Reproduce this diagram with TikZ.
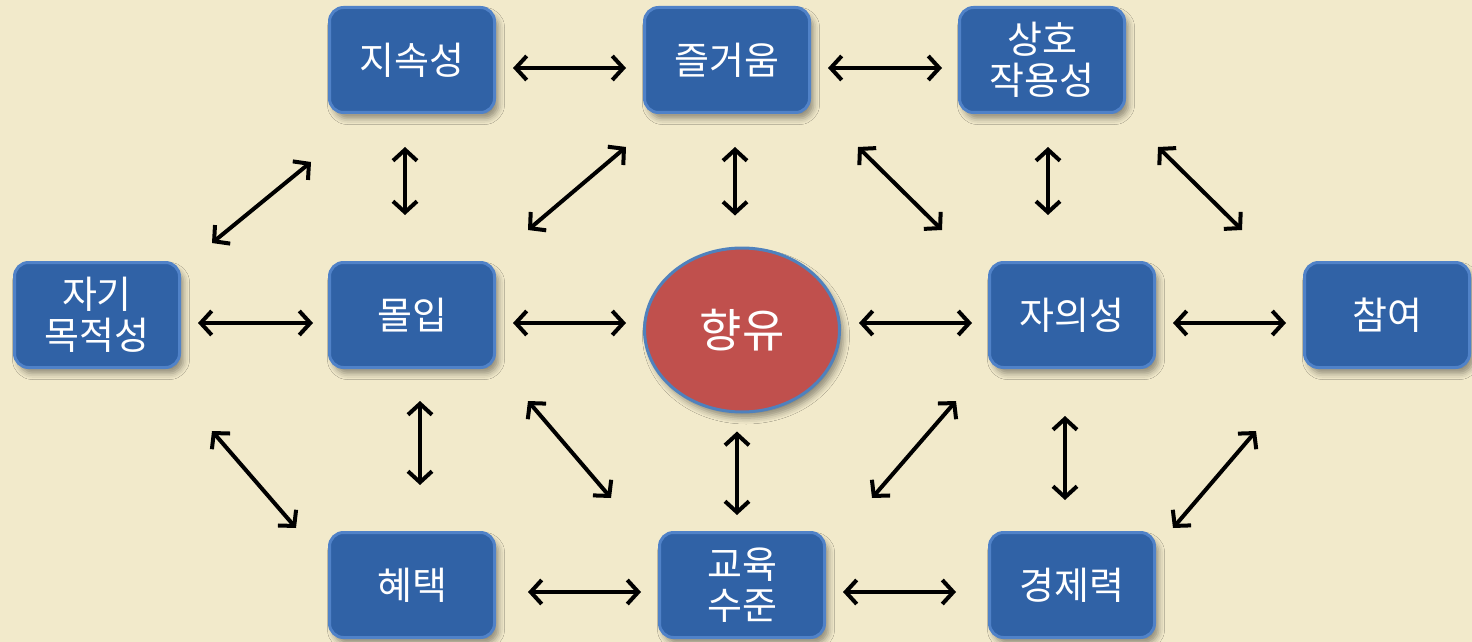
\documentclass[tikz,border=0pt]{standalone}
\usepackage{fontspec}
\newfontfamily\kr{Noto Sans CJK KR}
\usetikzlibrary{arrows.meta,shapes.geometric,shadows.blur}
\definecolor{parch}{RGB}{242,234,203}
\definecolor{boxfill}{RGB}{48,98,166}
\definecolor{boxline}{RGB}{80,130,200}
\definecolor{redfill}{RGB}{192,80,77}
\definecolor{redline}{RGB}{79,129,189}
\tikzset{
  bx/.style={draw=boxline, line width=1.5pt, fill=boxfill, rounded corners=7pt,
    minimum width=82.5pt, minimum height=52.5pt, inner sep=0pt,
    text=white, font=\kr\fontsize{19}{20.5}\selectfont, align=center,
    blur shadow={shadow xshift=2pt, shadow yshift=-3pt, shadow opacity=40, shadow blur radius=3pt}},
  ell/.style={ellipse, draw=redline, line width=1.5pt, fill=redfill,
    minimum width=97.5pt, minimum height=82pt, inner sep=0pt,
    text=white, font=\kr\fontsize{23}{26}\selectfont,
    blur shadow={shadow xshift=2pt, shadow yshift=-3pt, shadow opacity=40, shadow blur radius=3pt}},
  arr/.style={line width=2pt, black, {Straight Barb[length=5.5pt,width=12pt]}-{Straight Barb[length=5.5pt,width=12pt]}}
}
\begin{document}
\begin{tikzpicture}[x=0.5pt,y=-0.5pt]
\fill[parch] (0,0) rectangle (1472,642);
\useasboundingbox (0,0) rectangle (1472,642);
% nodes
\node[bx] (jisok) at (412,60) {지속성};
\node[bx] (jeul) at (727,60) {즐거움};
\node[bx] (sangho) at (1042,60) {상호\\작용성};
\node[bx] (jagi) at (97,315) {자기\\목적성};
\node[bx] (molip) at (412,315) {몰입};
\node[ell] (hyang) at (742,330) {향유};
\node[bx] (jaui) at (1072,315) {자의성};
\node[bx] (cham) at (1387,315) {참여};
\node[bx] (hye) at (412,585) {혜택};
\node[bx] (gyo) at (742,585) {교육\\수준};
\node[bx] (gyeong) at (1072,585) {경제력};
% horizontal
\draw[arr, shorten <=8.5pt, shorten >=8.5pt] ([yshift=-4pt]jisok.east) -- ([yshift=-4pt]jeul.west);
\draw[arr, shorten <=8.5pt, shorten >=8pt] ([yshift=-4pt]jeul.east) -- ([yshift=-4pt]sangho.west);
\draw[arr, shorten <=8.5pt, shorten >=7.5pt] ([yshift=-4pt]jagi.east) -- ([yshift=-4pt]molip.west);
\draw[arr, shorten <=8.5pt, shorten >=8.5pt] ([yshift=-4pt]molip.east) -- ([yshift=-4pt]molip.east -| hyang.west);
\draw[arr, shorten <=9pt, shorten >=8pt] ([yshift=-4pt]jaui.west -| hyang.east) -- ([yshift=-4pt]jaui.west);
\draw[arr, shorten <=8.5pt, shorten >=8.5pt] ([yshift=-4pt]jaui.east) -- ([yshift=-4pt]cham.west);
\draw[arr, shorten <=16pt, shorten >=8.5pt] ([yshift=-3.5pt]hye.east) -- ([yshift=-3.5pt]gyo.west);
\draw[arr, shorten <=8.5pt, shorten >=16pt] ([yshift=-3.5pt]gyo.east) -- ([yshift=-3.5pt]gyeong.west);
% vertical
\draw[arr, shorten <=16.5pt, shorten >=23pt] ([xshift=-3.5pt]jisok.south) -- ([xshift=-3.5pt]molip.north);
\draw[arr, shorten <=16.5pt, shorten >=15.5pt] ([xshift=4pt]jeul.south) -- ([xshift=4pt]jeul.south |- hyang.north);
\draw[arr, shorten <=16.5pt, shorten >=23pt] ([xshift=3pt]sangho.south) -- ([xshift=3pt]sangho.south |- jaui.north);
\draw[arr, shorten <=16pt, shorten >=23pt] ([xshift=4pt]molip.south) -- ([xshift=4pt]hye.north);
\draw[arr, shorten <=9pt, shorten >=8pt] ([xshift=-2.5pt]hyang.south) -- ([xshift=-2.5pt]gyo.north);
\draw[arr, shorten <=23.5pt, shorten >=15.5pt] ([xshift=-3.5pt]jaui.south) -- ([xshift=-3.5pt]gyeong.north);
% diagonal
\draw[arr] ([shift={(-8.5pt,-24pt)}]jisok.south west) -- ([shift={(15.5pt,9pt)}]jagi.north east);
\draw[arr] ([shift={(-8.5pt,-16.5pt)}]jeul.south west) -- ([shift={(16pt,15.5pt)}]molip.north east);
\draw[arr] ([shift={(23.5pt,-16.5pt)}]jeul.south east) -- ([shift={(-23pt,15.5pt)}]jaui.north west);
\draw[arr] ([shift={(16pt,-16.5pt)}]sangho.south east) -- ([shift={(-30.5pt,15.5pt)}]cham.north west);
\draw[arr] ([shift={(15.5pt,-31pt)}]jagi.south east) -- ([shift={(-16pt,1.5pt)}]hye.north west);
\draw[arr] ([shift={(16pt,-16pt)}]molip.south east) -- ([shift={(-23.5pt,16.5pt)}]gyo.north west);
\draw[arr] ([shift={(-16pt,-16pt)}]jaui.south west) -- ([shift={(23pt,16.5pt)}]gyo.north east);
\draw[arr] ([shift={(-23.5pt,-31pt)}]cham.south west) -- ([shift={(8.5pt,1.5pt)}]gyeong.north east);
\end{tikzpicture}
\end{document}
